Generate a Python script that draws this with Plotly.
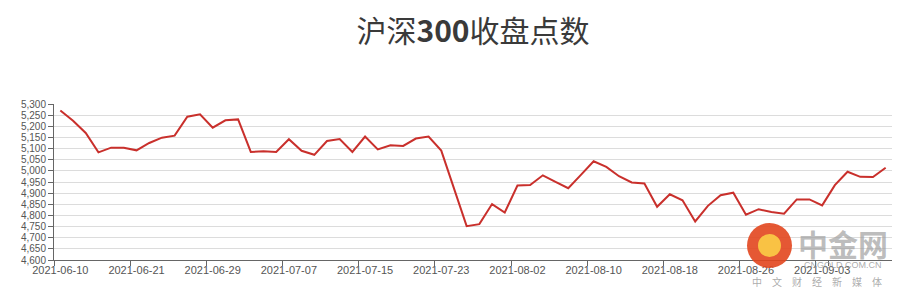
import plotly.graph_objects as go

dates = [
    "2021-06-10", "2021-06-11", "2021-06-15", "2021-06-16", "2021-06-17", "2021-06-18",
    "2021-06-21", "2021-06-22", "2021-06-23", "2021-06-24", "2021-06-25", "2021-06-28",
    "2021-06-29", "2021-06-30", "2021-07-01", "2021-07-02", "2021-07-05", "2021-07-06",
    "2021-07-07", "2021-07-08", "2021-07-09", "2021-07-12", "2021-07-13", "2021-07-14",
    "2021-07-15", "2021-07-16", "2021-07-19", "2021-07-20", "2021-07-21", "2021-07-22",
    "2021-07-23", "2021-07-26", "2021-07-27", "2021-07-28", "2021-07-29", "2021-07-30",
    "2021-08-02", "2021-08-03", "2021-08-04", "2021-08-05", "2021-08-06", "2021-08-09",
    "2021-08-10", "2021-08-11", "2021-08-12", "2021-08-13", "2021-08-16", "2021-08-17",
    "2021-08-18", "2021-08-19", "2021-08-20", "2021-08-23", "2021-08-24", "2021-08-25",
    "2021-08-26", "2021-08-27", "2021-08-30", "2021-08-31", "2021-09-01", "2021-09-02",
    "2021-09-03", "2021-09-06", "2021-09-07", "2021-09-08", "2021-09-09", "2021-09-10",
]

close = [
    5271, 5225, 5170, 5083, 5104, 5104, 5092, 5125, 5149, 5158,
    5243, 5254, 5194, 5227, 5231, 5085, 5088, 5085, 5142, 5090,
    5072, 5134, 5143, 5085, 5154, 5096, 5115, 5112, 5145, 5154,
    5091, 4921, 4752, 4761, 4851, 4813, 4934, 4936, 4980, 4951,
    4922, 4982, 5043, 5018, 4976, 4948, 4943, 4839, 4895, 4868,
    4773, 4843, 4891, 4902, 4803, 4828, 4815, 4808, 4872, 4872,
    4845, 4936, 4996, 4973, 4972, 5014,
]

tick_dates = dates[::6]

title_text = "沪深<b>300</b>收盘点数"

fig = go.Figure()
fig.add_trace(go.Scatter(
    x=dates, y=close, mode="lines",
    line=dict(color="#c9302c", width=2),
    hoverinfo="x+y", showlegend=False,
))

L, R, T, B = 54, 11, 104, 36
W, H = 903, 296
pw, ph = W - L - R, H - T - B


def px(x):
    return (x - L) / pw


def py(y):
    return (H - B - y) / ph


fig.update_layout(
    width=W, height=H,
    margin=dict(l=L, r=R, t=T, b=B),
    paper_bgcolor="white", plot_bgcolor="white",
    title=dict(
        text=title_text, x=0.5, xref="paper", y=1 - 31 / H, yref="container",
        xanchor="center", yanchor="middle",
        font=dict(family="Noto Sans CJK SC", size=30, color="#3a3a3a"),
    ),
    xaxis=dict(
        type="category", range=[-0.5, len(dates) - 0.5],
        tickmode="array", tickvals=tick_dates, ticktext=tick_dates,
        tickson="boundaries", ticks="outside", ticklen=5, tickcolor="#666666",
        tickangle=0,
        showline=True, linecolor="#666666", linewidth=1,
        showgrid=False, zeroline=False,
        tickfont=dict(family="Liberation Sans", size=11, color="#555555"),
    ),
    yaxis=dict(
        range=[4600, 5300], dtick=50, tick0=4600, tickformat=",",
        ticks="outside", ticklen=5, tickcolor="#666666",
        showline=True, linecolor="#666666", linewidth=1,
        showgrid=True, gridcolor="#dcdcdc", gridwidth=1, zeroline=False,
        tickfont=dict(family="Liberation Sans", size=10, color="#555555"),
    ),
)

# watermark (logo)
fig.add_shape(type="circle", xref="paper", yref="paper",
              x0=px(747), x1=px(792), y0=py(223), y1=py(268),
              fillcolor="rgba(226,70,30,0.9)", line=dict(width=0), layer="above")
fig.add_shape(type="circle", xref="paper", yref="paper",
              x0=px(758), x1=px(781), y0=py(234), y1=py(257),
              fillcolor="rgba(250,200,70,0.95)", line=dict(width=0), layer="above")
fig.add_annotation(text="<b>中金网</b>", xref="paper", yref="paper", x=px(796), y=py(243),
                   xanchor="left", yanchor="middle", showarrow=False,
                   font=dict(family="Noto Sans CJK SC", size=30, color="rgba(160,160,160,0.7)"))
fig.add_annotation(text="CNGOLD.COM.CN", xref="paper", yref="paper", x=px(843), y=py(265),
                   xanchor="center", yanchor="middle", showarrow=False,
                   font=dict(family="Liberation Sans", size=9, color="rgba(150,150,150,0.8)"))
fig.add_annotation(text="中　文　财　经　新　媒　体", xref="paper", yref="paper", x=px(817), y=py(281),
                   xanchor="center", yanchor="middle", showarrow=False,
                   font=dict(family="Noto Sans CJK SC", size=10, color="rgba(150,150,150,0.8)"))

fig.write_html("out.html")
